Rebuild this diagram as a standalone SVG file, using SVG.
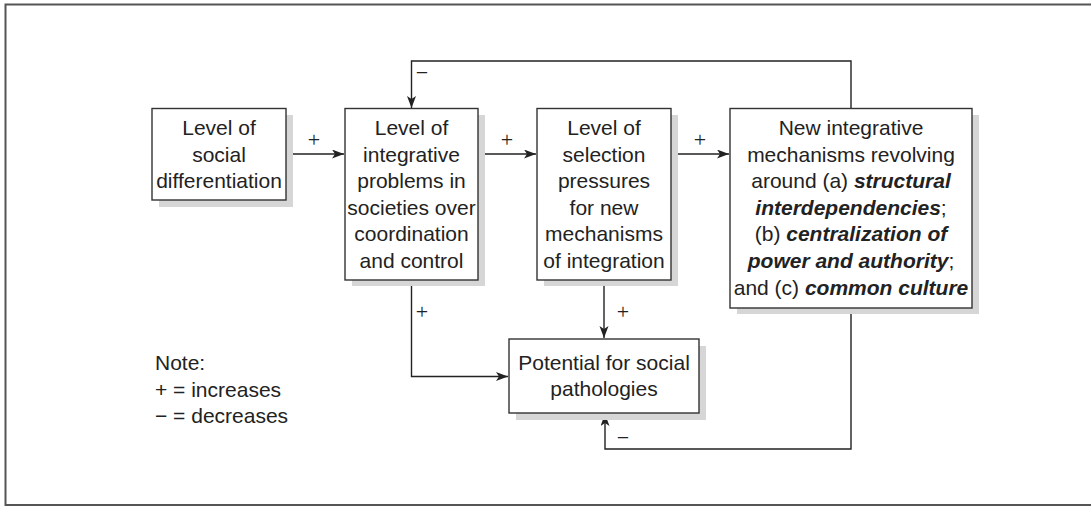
<svg xmlns="http://www.w3.org/2000/svg" width="1091" height="506" viewBox="0 0 1091 506">
  <style>
    .frame { fill: none; stroke: #555; stroke-width: 2; }
    .shadow { fill: #d6d6d6; }
    .box { fill: #fff; stroke: #333; stroke-width: 1.4; }
    .label { font-family: "Liberation Sans", Arial, sans-serif; font-size: 21px; fill: #222; text-anchor: middle; }
    .em { font-weight: bold; font-style: italic; }
    .sign { font-family: "Liberation Serif", "Times New Roman", serif; font-size: 22px; fill: #222; text-anchor: middle; }
    .note { font-family: "Liberation Sans", Arial, sans-serif; font-size: 21px; fill: #222; }
    .wire { fill: none; stroke: #222; stroke-width: 1.4; }
  </style>
  <defs>
    <marker id="arrow" markerUnits="userSpaceOnUse" markerWidth="14" markerHeight="10" refX="12" refY="4.5" orient="auto">
      <path d="M0,0 L12,4.5 L0,9 L3,4.5 Z" fill="#222"/>
    </marker>
  </defs>

  <rect width="1091" height="506" fill="#fff"/>
  <!-- page frame: open on the right -->
  <path class="frame" d="M1091,4.5 H5.5 V505 H1091"/>

  <!-- connectors -->
  <g id="connectors">
    <path class="wire" d="M286,154 H344" marker-end="url(#arrow)"/>
    <path class="wire" d="M478,154 H536" marker-end="url(#arrow)"/>
    <path class="wire" d="M671,154 H729" marker-end="url(#arrow)"/>
    <path class="wire" d="M851,108 V61 H411.5 V108" marker-end="url(#arrow)"/>
    <path class="wire" d="M604,280 V338" marker-end="url(#arrow)"/>
    <path class="wire" d="M411.5,280 V376.5 H508" marker-end="url(#arrow)"/>
    <path class="wire" d="M851,308 V449 H605 V414" marker-end="url(#arrow)"/>
    <text class="sign" x="314" y="147">+</text>
    <text class="sign" x="507" y="147">+</text>
    <text class="sign" x="700" y="147">+</text>
    <text class="sign" x="422" y="80">−</text>
    <text class="sign" x="422" y="319">+</text>
    <text class="sign" x="623" y="319">+</text>
    <text class="sign" x="623" y="445">−</text>
  </g>

  <g id="social-differentiation">
    <rect class="shadow" x="159" y="115" width="134" height="92"/>
    <rect class="box" x="152" y="108.5" width="134" height="91.5"/>
    <text class="label" x="219" y="135">Level of</text>
    <text class="label" x="219" y="161.5">social</text>
    <text class="label" x="219" y="188">differentiation</text>
  </g>

  <g id="integrative-problems">
    <rect class="shadow" x="352" y="115" width="133" height="171"/>
    <rect class="box" x="345" y="108.5" width="133" height="171.5"/>
    <text class="label" x="411.5" y="135">Level of</text>
    <text class="label" x="411.5" y="161.6">integrative</text>
    <text class="label" x="411.5" y="188.2">problems in</text>
    <text class="label" x="411.5" y="214.8">societies over</text>
    <text class="label" x="411.5" y="241.4">coordination</text>
    <text class="label" x="411.5" y="268">and control</text>
  </g>

  <g id="selection-pressures">
    <rect class="shadow" x="544" y="115" width="134" height="171"/>
    <rect class="box" x="537" y="108.5" width="134" height="171.5"/>
    <text class="label" x="604" y="135">Level of</text>
    <text class="label" x="604" y="161.6">selection</text>
    <text class="label" x="604" y="188.2">pressures</text>
    <text class="label" x="604" y="214.8">for new</text>
    <text class="label" x="604" y="241.4">mechanisms</text>
    <text class="label" x="604" y="268">of integration</text>
  </g>

  <g id="new-mechanisms">
    <rect class="shadow" x="737" y="115" width="242" height="199"/>
    <rect class="box" x="730" y="108.5" width="242" height="199.5"/>
    <text class="label" x="851" y="135">New integrative</text>
    <text class="label" x="851" y="161.6">mechanisms revolving</text>
    <text class="label" x="851" y="188.2">around (a) <tspan class="em">structural</tspan></text>
    <text class="label" x="851" y="214.8"><tspan class="em">interdependencies</tspan>;</text>
    <text class="label" x="851" y="241.4">(b) <tspan class="em">centralization of</tspan></text>
    <text class="label" x="851" y="268"><tspan class="em">power and authority</tspan>;</text>
    <text class="label" x="851" y="294.6">and (c) <tspan class="em">common culture</tspan></text>
  </g>

  <g id="social-pathologies">
    <rect class="shadow" x="516" y="346" width="190" height="74"/>
    <rect class="box" x="509" y="339" width="190" height="74"/>
    <text class="label" x="604" y="370">Potential for social</text>
    <text class="label" x="604" y="396">pathologies</text>
  </g>

  <g id="legend">
    <text class="note" x="155" y="370">Note:</text>
    <text class="note" x="155" y="396.5">+ = increases</text>
    <text class="note" x="155" y="423">− = decreases</text>
  </g>
</svg>
